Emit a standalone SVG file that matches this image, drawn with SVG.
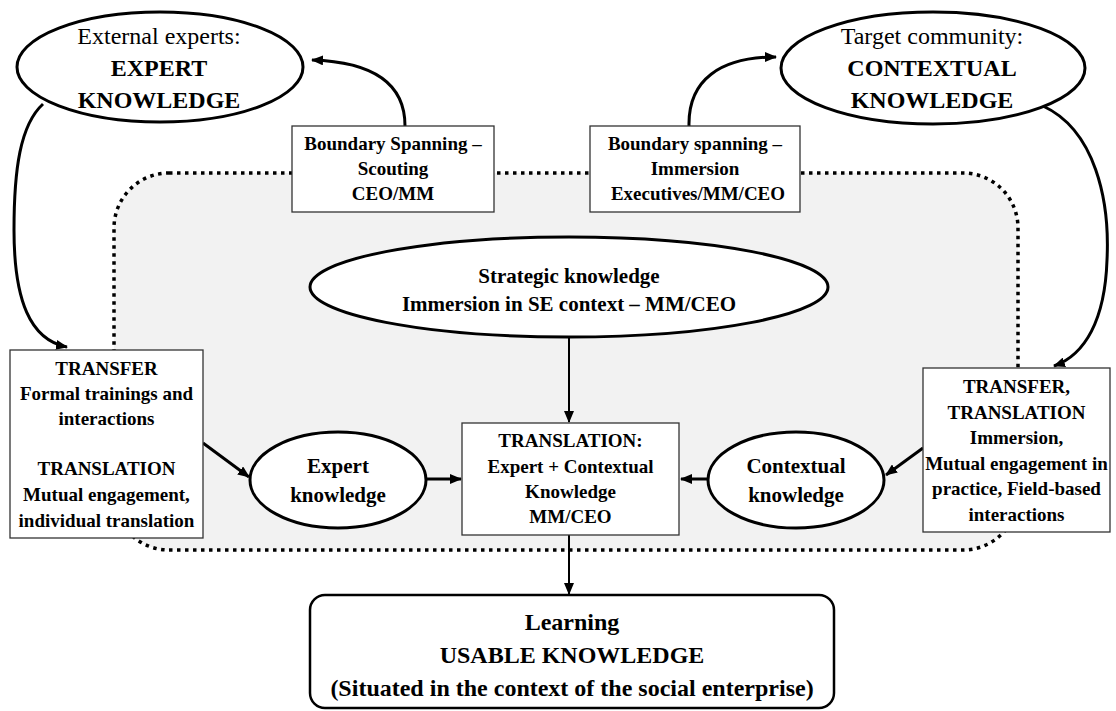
<svg xmlns="http://www.w3.org/2000/svg" width="1116" height="711" viewBox="0 0 1116 711">
<defs>
<marker id="ah" markerUnits="userSpaceOnUse" markerWidth="12" markerHeight="10" refX="11" refY="5" orient="auto">
<path d="M0,0 L12,5 L0,10 z" fill="#000"/>
</marker>
<style>
text{font-family:"Liberation Serif","Times New Roman",serif;fill:#000;text-anchor:middle}
.b{font-weight:bold}
.t19{font-size:19px}
.t21{font-size:21px}
.t24{font-size:24px}
.ell{fill:#fff;stroke:#000;stroke-width:3}
.box{fill:#fff;stroke:#333;stroke-width:1.3}
.con{fill:none;stroke:#000;stroke-width:3;marker-end:url(#ah)}
.con2{fill:none;stroke:#000;stroke-width:2;marker-end:url(#ah)}
</style>
</defs>
<rect width="1116" height="711" fill="#fff"/>
<g id="boundary">
<rect x="114" y="173" width="904" height="377" rx="55" ry="55" fill="#f2f2f2" stroke="#000" stroke-width="3.5" stroke-dasharray="3.5 4.5"/>
</g>
<g id="connectors">
<path class="con" d="M405,126 C405,85 375,62 312,60"/>
<path class="con" d="M689,126 C688,80 720,57 776,57"/>
<path class="con" d="M43,104 C20,125 14,170 14,230 C14,300 30,340 67,347"/>
<path class="con" d="M1043,106 C1095,130 1110,200 1107,260 C1105,320 1085,355 1054,366"/>
<path class="con" d="M203,443 L249,477"/>
<path class="con" d="M923,448 L886,475"/>
<path class="con" d="M427,479 L461,479"/>
<path class="con" d="M707,479 L681,479"/>
<path class="con2" d="M569,338 L569,422"/>
<path class="con2" d="M569,535 L569,594"/>
</g>
<g id="external-experts">
<ellipse class="ell" cx="160" cy="67" rx="143" ry="55"/>
<text class="t24" x="159" y="44">External experts:</text>
<text class="t24 b" x="159" y="76">EXPERT</text>
<text class="t24 b" x="159" y="108">KNOWLEDGE</text>
</g>
<g id="target-community">
<ellipse class="ell" cx="933" cy="68" rx="152" ry="56"/>
<text class="t24" x="932" y="44">Target community:</text>
<text class="t24 b" x="932" y="76">CONTEXTUAL</text>
<text class="t24 b" x="932" y="108">KNOWLEDGE</text>
</g>
<g id="scouting">
<rect class="box" x="292" y="126" width="202" height="86"/>
<text class="t19 b" x="393" y="150">Boundary Spanning –</text>
<text class="t19 b" x="393" y="175">Scouting</text>
<text class="t19 b" x="393" y="200">CEO/MM</text>
</g>
<g id="immersion">
<rect class="box" x="590" y="126" width="210" height="86"/>
<text class="t19 b" x="695" y="150">Boundary spanning –</text>
<text class="t19 b" x="695" y="175">Immersion</text>
<text class="t19 b" x="698" y="200">Executives/MM/CEO</text>
</g>
<g id="strategic">
<ellipse class="ell" cx="569" cy="287" rx="259" ry="50"/>
<text class="t21 b" x="569" y="283">Strategic knowledge</text>
<text class="t21 b" x="569" y="311">Immersion in SE context – MM/CEO</text>
</g>
<g id="transfer-left">
<rect class="box" x="10" y="350" width="193" height="188"/>
<text class="t19 b" x="106.5" y="375">TRANSFER</text>
<text class="t19 b" x="106.5" y="400">Formal trainings and</text>
<text class="t19 b" x="106.5" y="425">interactions</text>
<text class="t19 b" x="106.5" y="475">TRANSLATION</text>
<text class="t19 b" x="106.5" y="501">Mutual engagement,</text>
<text class="t19 b" x="106.5" y="527">individual translation</text>
</g>
<g id="expert-knowledge">
<ellipse class="ell" cx="338" cy="480" rx="88" ry="48"/>
<text class="t21 b" x="338" y="473">Expert</text>
<text class="t21 b" x="338" y="502">knowledge</text>
</g>
<g id="translation">
<rect class="box" x="462" y="423" width="217" height="112"/>
<text class="t19 b" x="570.5" y="447">TRANSLATION:</text>
<text class="t19 b" x="570.5" y="473">Expert + Contextual</text>
<text class="t19 b" x="570.5" y="498">Knowledge</text>
<text class="t19 b" x="570.5" y="523">MM/CEO</text>
</g>
<g id="contextual-knowledge">
<ellipse class="ell" cx="796" cy="480" rx="88" ry="48"/>
<text class="t21 b" x="796" y="473">Contextual</text>
<text class="t21 b" x="796" y="502">knowledge</text>
</g>
<g id="transfer-right">
<rect class="box" x="923" y="368" width="187" height="164"/>
<text class="t19 b" x="1016.5" y="393">TRANSFER,</text>
<text class="t19 b" x="1016.5" y="419">TRANSLATION</text>
<text class="t19 b" x="1016.5" y="444">Immersion,</text>
<text class="t19 b" x="1016.5" y="470">Mutual engagement in</text>
<text class="t19 b" x="1016.5" y="495">practice, Field-based</text>
<text class="t19 b" x="1016.5" y="521">interactions</text>
</g>
<g id="learning">
<rect x="310" y="595" width="524" height="113" rx="15" ry="15" fill="#fff" stroke="#000" stroke-width="2.5"/>
<text class="t24 b" x="572" y="630">Learning</text>
<text class="t24 b" x="572" y="663">USABLE KNOWLEDGE</text>
<text class="t24 b" x="572" y="696">(Situated in the context of the social enterprise)</text>
</g>
</svg>
